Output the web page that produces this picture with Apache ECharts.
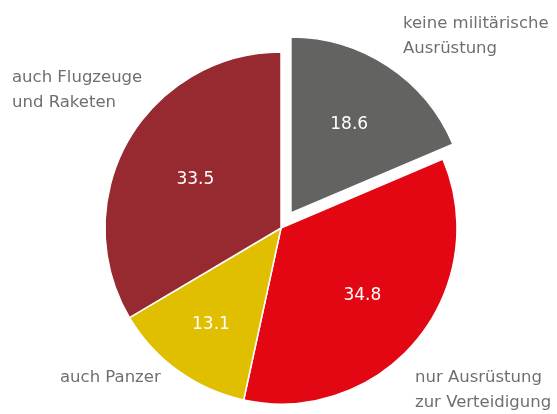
<!DOCTYPE html>
<html>
<head>
<meta charset="utf-8">
<script src="https://cdn.jsdelivr.net/npm/echarts@6/dist/echarts.min.js"></script>
<style>
  html, body { margin: 0; padding: 0; background: #fff; }
  #chart { width: 557px; height: 414px; }
</style>
</head>
<body>
<div id="chart"></div>
<script>
// slices, clockwise from 12 o'clock
const categories = ['keine militärische\nAusrüstung', 'nur Ausrüstung\nzur Verteidigung', 'auch Panzer', 'auch Flugzeuge\nund Raketen'];
const values = [18.6, 34.8, 13.1, 33.5];
const colors = ['#636362', '#e30613', '#dfbf00', '#972a30'];
const explodedIndex = 0;

const cx = 281;
const cy = 228;
const radius = 176;
const offset = 18;

// where the value sits along the slice radius (fraction of radius)
const valueRadius = [0.6, 0.6, 0.68, 0.56];
// where the category names sit
const namePos = [[403, 11], [415, 365], [60, 365], [12, 65]];

function midAngle(i) {
    const total = values.reduce(function (a, b) { return a + b; }, 0);
    let start = 0;
    for (let k = 0; k < i; k++) start += values[k];
    return (start + values[i] / 2) / total * 2 * Math.PI;
}

const chart = echarts.init(document.getElementById('chart'), null, { renderer: 'canvas' });

// the exploded slice is drawn by its own series with a shifted centre
const ea = midAngle(explodedIndex);
const ecx = cx + offset * Math.sin(ea);
const ecy = cy - offset * Math.cos(ea);

function valueSeries(center, keep) {
    return {
        type: 'pie',
        center: center,
        radius: radius,
        startAngle: 90,
        clockwise: true,
        silent: true,
        itemStyle: { borderColor: '#fff', borderWidth: 1.5 },
        label: {
            show: true,
            position: 'inside',
            formatter: function (p) { return p.value.toFixed(1); },
            color: '#fff',
            fontFamily: 'DejaVu Sans',
            fontSize: 17
        },
        labelLine: { show: false },
        labelLayout: function (p) {
            const a = midAngle(p.dataIndex);
            const d = valueRadius[p.dataIndex] * radius;
            return {
                x: center[0] + d * Math.sin(a),
                y: center[1] - d * Math.cos(a),
                align: 'center',
                verticalAlign: 'middle'
            };
        },
        emphasis: { disabled: true },
        data: categories.map(function (c, i) {
            const shown = keep(i);
            return {
                name: c,
                value: values[i],
                itemStyle: shown ? { color: colors[i] } : { color: 'rgba(0,0,0,0)', borderWidth: 0 },
                label: { show: shown }
            };
        })
    };
}

const options = {
    animation: false,
    series: [
        valueSeries([cx, cy], function (i) { return i !== explodedIndex; }),
        valueSeries([ecx, ecy], function (i) { return i === explodedIndex; }),
        {
            type: 'pie',
            center: [cx, cy],
            radius: radius,
            startAngle: 90,
            silent: true,
            itemStyle: { color: 'rgba(0,0,0,0)' },
            label: {
                show: true,
                position: 'outside',
                formatter: '{b}',
                color: '#6f6f6f',
                fontFamily: 'DejaVu Sans',
                fontSize: 16.5,
                lineHeight: 25,
                align: 'left',
                overflow: 'none',
                width: 200
            },
            labelLine: { show: false },
            labelLayout: function (p) {
                return {
                    x: namePos[p.dataIndex][0],
                    y: namePos[p.dataIndex][1],
                    align: 'left',
                    verticalAlign: 'top'
                };
            },
            emphasis: { disabled: true },
            data: categories.map(function (c, i) { return { name: c, value: values[i] }; })
        }
    ]
};
chart.setOption(options);
</script>
</body>
</html>
